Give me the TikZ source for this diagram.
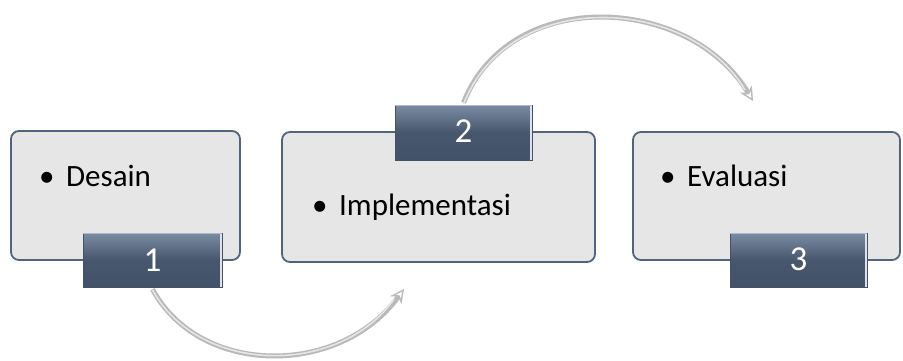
\documentclass[tikz,border=0pt]{standalone}
\usepackage{fontspec}
\setmainfont{Carlito}
\usetikzlibrary{arrows.meta}
\definecolor{boxfill}{RGB}{230,230,230}
\definecolor{boxline}{RGB}{80,100,128}
\definecolor{tabdark}{RGB}{66,82,104}
\definecolor{tablight}{RGB}{122,140,164}
\definecolor{arrowgray}{RGB}{185,185,185}
\tikzset{
  stagebox/.style={draw=boxline, line width=1.8pt, fill=boxfill, rounded corners=8pt},
  tabbox/.style={draw=tabdark, line width=0.6pt, top color=tablight, bottom color=tabdark, middle color=tabdark!92!tablight, inner sep=0pt},
  tabtext/.style={text=white, inner sep=0pt, font=\fontsize{35}{40}\selectfont},
  itemtext/.style={anchor=base west, inner sep=0pt, font=\fontsize{31}{36}\selectfont},
  cyclearrow/.style={draw=arrowgray, line width=5pt, -{Stealth[length=14pt,width=14pt,open,line width=1.4pt]}},
  cyclecore/.style={draw=white!80!gray, line width=1.6pt}
}
\newcommand{\blt}{\makebox[24pt][l]{\hspace{-3pt}\textbullet}}
\begin{document}
\begin{tikzpicture}[x=1pt,y=-1pt]
\useasboundingbox (0,0) rectangle (903,360);
% boxes
\draw[stagebox] (11,131) rectangle (240,260);
\draw[stagebox] (282,132) rectangle (595,262);
\draw[stagebox] (633,132) rectangle (900,260);
% texts
\node[itemtext] (t1) at (42,186) {\blt Desain};
\node[itemtext] (t2) at (315,215) {\blt Implementasi};
\node[itemtext] (t3) at (663,186.5) {\blt Evaluasi};
% tabs
\node[tabbox, minimum width=139pt, minimum height=54pt] (n1) at (152.5,260) {};
\node[tabbox, minimum width=137pt, minimum height=55pt] (n2) at (463.5,132.5) {};
\node[tabbox, minimum width=137pt, minimum height=54pt] (n3) at (798.5,260) {};
\foreach \n in {n1,n2,n3}{
  \draw[white!75!tablight, line width=1.8pt] ([xshift=-1pt]\n.north east) -- ([xshift=-1pt]\n.south east);
  \draw[white!40!tablight, line width=1.4pt] ([yshift=-1pt]\n.north west) -- ([yshift=-1pt]\n.north east);
}
\node[tabtext] at ([yshift=0pt]n1.center) {1};
\node[tabtext] at ([yshift=1.5pt]n2.center) {2};
\node[tabtext] at ([yshift=0.5pt]n3.center) {3};
% arrows
\coordinate (e1) at (404,289);
\coordinate (e2) at (753,101);
\draw[cyclearrow] (n1.south) ++(0,2) .. controls (200,377) and (340,377) .. (e1);
\draw[cyclecore] (152.5,290) .. controls (200,376) and (340,376) .. (394,299);
\draw[cyclearrow] (n2.north) ++(0,-2) .. controls (510,-15) and (690,-5) .. (e2);
\draw[cyclecore] (463.5,104) .. controls (510,-14) and (690,-4) .. (745,90);
\end{tikzpicture}
\end{document}
